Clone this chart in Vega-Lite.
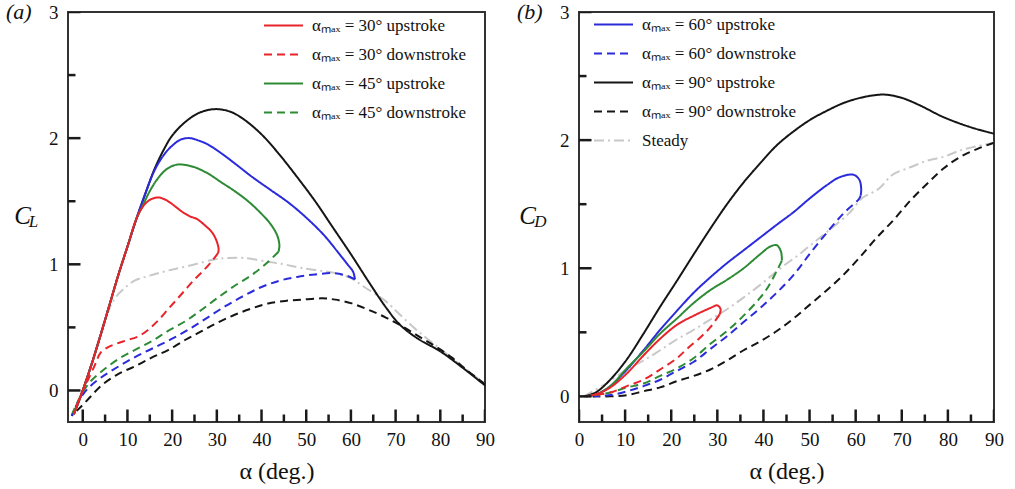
{
  "$schema": "https://vega.github.io/schema/vega-lite/v6.json",
  "background": "white",
  "padding": {"left": 5, "top": 0, "right": 5, "bottom": 5},
  "config": {
    "font": "Liberation Serif",
    "view": {"stroke": "#333333", "strokeWidth": 2},
    "axis": {"grid": false, "domain": false, "ticks": false, "labelFont": "Liberation Serif", "labelFontSize": 19, "labelColor": "#111111", "titleFont": "Liberation Serif", "titleFontWeight": "normal", "titleColor": "#111111", "labelFlush": false, "labelOverlap": false},
    "legend": {"title": null, "symbolType": "stroke", "symbolSize": 1521, "symbolStrokeWidth": 2, "labelFont": "Liberation Serif", "labelFontSize": 17, "labelColor": "#111111", "labelOffset": 8, "rowPadding": -12, "padding": 0, "labelLimit": 400},
    "title": {"font": "Liberation Serif", "fontSize": 22, "fontStyle": "italic", "fontWeight": "normal", "color": "#111111", "anchor": "start", "frame": "group"}
  },
  "datasets": {
    "xticks": [
      {"v":0,"k":"major"},{"v":10,"k":"major"},{"v":20,"k":"major"},{"v":30,"k":"major"},{"v":40,"k":"major"},{"v":50,"k":"major"},{"v":60,"k":"major"},{"v":70,"k":"major"},{"v":80,"k":"major"},{"v":90,"k":"major"},
      {"v":5,"k":"minor"},{"v":15,"k":"minor"},{"v":25,"k":"minor"},{"v":35,"k":"minor"},{"v":45,"k":"minor"},{"v":55,"k":"minor"},{"v":65,"k":"minor"},{"v":75,"k":"minor"},{"v":85,"k":"minor"}
    ],
    "yticks": [
      {"v":0,"k":"major"},{"v":1,"k":"major"},{"v":2,"k":"major"},{"v":3,"k":"major"},
      {"v":0.5,"k":"minor"},{"v":1.5,"k":"minor"},{"v":2.5,"k":"minor"}
    ],
    "lift": [
      {"s":"steady","i":0,"a":0,"c":0},{"s":"steady","i":1,"a":2,"c":0.22},{"s":"steady","i":2,"a":4,"c":0.45},{"s":"steady","i":3,"a":5.5,"c":0.61},{"s":"steady","i":4,"a":7.2,"c":0.73},{"s":"steady","i":5,"a":9,"c":0.8},{"s":"steady","i":6,"a":11.6,"c":0.87},{"s":"steady","i":7,"a":15,"c":0.91},{"s":"steady","i":8,"a":19,"c":0.95},{"s":"steady","i":9,"a":24,"c":0.99},{"s":"steady","i":10,"a":29.6,"c":1.04},{"s":"steady","i":11,"a":32.6,"c":1.05},{"s":"steady","i":12,"a":36,"c":1.05},{"s":"steady","i":13,"a":41.5,"c":1.02},{"s":"steady","i":14,"a":45,"c":1.0},{"s":"steady","i":15,"a":49,"c":0.97},{"s":"steady","i":16,"a":56.5,"c":0.93},{"s":"steady","i":17,"a":60,"c":0.89},{"s":"steady","i":18,"a":63,"c":0.82},{"s":"steady","i":19,"a":67.7,"c":0.71},{"s":"steady","i":20,"a":71,"c":0.6},{"s":"steady","i":21,"a":75,"c":0.47},{"s":"steady","i":22,"a":80.3,"c":0.32},{"s":"steady","i":23,"a":85,"c":0.19},{"s":"steady","i":24,"a":90,"c":0.05},

      {"s":"90up","i":0,"a":-2,"c":-0.19},{"s":"90up","i":1,"a":0,"c":0},{"s":"90up","i":2,"a":2,"c":0.21},{"s":"90up","i":3,"a":4,"c":0.44},{"s":"90up","i":4,"a":6,"c":0.68},{"s":"90up","i":5,"a":8,"c":0.92},{"s":"90up","i":6,"a":10,"c":1.14},{"s":"90up","i":7,"a":12,"c":1.36},{"s":"90up","i":8,"a":14,"c":1.56},{"s":"90up","i":9,"a":16,"c":1.75},{"s":"90up","i":10,"a":18,"c":1.9},{"s":"90up","i":11,"a":20,"c":2.02},{"s":"90up","i":12,"a":23,"c":2.13},{"s":"90up","i":13,"a":26,"c":2.2},{"s":"90up","i":14,"a":29.5,"c":2.23},{"s":"90up","i":15,"a":33,"c":2.21},{"s":"90up","i":16,"a":36,"c":2.15},{"s":"90up","i":17,"a":40,"c":2.03},{"s":"90up","i":18,"a":44,"c":1.87},{"s":"90up","i":19,"a":48,"c":1.69},{"s":"90up","i":20,"a":52,"c":1.5},{"s":"90up","i":21,"a":56,"c":1.29},{"s":"90up","i":22,"a":60,"c":1.08},{"s":"90up","i":23,"a":64,"c":0.86},{"s":"90up","i":24,"a":68,"c":0.65},{"s":"90up","i":25,"a":71,"c":0.52},{"s":"90up","i":26,"a":75,"c":0.41},{"s":"90up","i":27,"a":80,"c":0.31},{"s":"90up","i":28,"a":85,"c":0.18},{"s":"90up","i":29,"a":90,"c":0.04},

      {"s":"90down","i":0,"a":90,"c":0.05},{"s":"90down","i":1,"a":86.3,"c":0.15},{"s":"90down","i":2,"a":82.6,"c":0.26},{"s":"90down","i":3,"a":78.9,"c":0.35},{"s":"90down","i":4,"a":75.1,"c":0.43},{"s":"90down","i":5,"a":71.4,"c":0.51},{"s":"90down","i":6,"a":67.7,"c":0.58},{"s":"90down","i":7,"a":63.9,"c":0.64},{"s":"90down","i":8,"a":60.2,"c":0.69},{"s":"90down","i":9,"a":56.5,"c":0.72},{"s":"90down","i":10,"a":53.5,"c":0.73},{"s":"90down","i":11,"a":49,"c":0.72},{"s":"90down","i":12,"a":45.3,"c":0.71},{"s":"90down","i":13,"a":41.5,"c":0.69},{"s":"90down","i":14,"a":37.8,"c":0.65},{"s":"90down","i":15,"a":34,"c":0.6},{"s":"90down","i":16,"a":30.3,"c":0.54},{"s":"90down","i":17,"a":26.6,"c":0.47},{"s":"90down","i":18,"a":22.9,"c":0.4},{"s":"90down","i":19,"a":19.1,"c":0.32},{"s":"90down","i":20,"a":15.4,"c":0.26},{"s":"90down","i":21,"a":11.6,"c":0.19},{"s":"90down","i":22,"a":7.9,"c":0.13},{"s":"90down","i":23,"a":4.2,"c":0.04},{"s":"90down","i":24,"a":1.2,"c":-0.07},{"s":"90down","i":25,"a":-1,"c":-0.15},{"s":"90down","i":26,"a":-2.5,"c":-0.2},

      {"s":"60up","i":0,"a":-2,"c":-0.19},{"s":"60up","i":1,"a":0,"c":0},{"s":"60up","i":2,"a":2,"c":0.21},{"s":"60up","i":3,"a":4,"c":0.44},{"s":"60up","i":4,"a":6,"c":0.68},{"s":"60up","i":5,"a":8,"c":0.92},{"s":"60up","i":6,"a":10,"c":1.14},{"s":"60up","i":7,"a":12,"c":1.36},{"s":"60up","i":8,"a":14,"c":1.56},{"s":"60up","i":9,"a":16,"c":1.74},{"s":"60up","i":10,"a":18,"c":1.86},{"s":"60up","i":11,"a":20,"c":1.94},{"s":"60up","i":12,"a":22,"c":1.99},{"s":"60up","i":13,"a":24,"c":2.0},{"s":"60up","i":14,"a":26,"c":1.98},{"s":"60up","i":15,"a":28,"c":1.95},{"s":"60up","i":16,"a":31,"c":1.88},{"s":"60up","i":17,"a":34,"c":1.8},{"s":"60up","i":18,"a":38,"c":1.69},{"s":"60up","i":19,"a":42,"c":1.59},{"s":"60up","i":20,"a":46,"c":1.49},{"s":"60up","i":21,"a":50,"c":1.37},{"s":"60up","i":22,"a":54,"c":1.23},{"s":"60up","i":23,"a":57,"c":1.1},{"s":"60up","i":24,"a":59,"c":1.01},{"s":"60up","i":25,"a":60.5,"c":0.94},{"s":"60up","i":26,"a":60.9,"c":0.88},

      {"s":"60down","i":0,"a":60.9,"c":0.88},{"s":"60down","i":1,"a":59,"c":0.91},{"s":"60down","i":2,"a":56,"c":0.93},{"s":"60down","i":3,"a":52,"c":0.92},{"s":"60down","i":4,"a":48,"c":0.9},{"s":"60down","i":5,"a":44,"c":0.87},{"s":"60down","i":6,"a":40,"c":0.82},{"s":"60down","i":7,"a":36,"c":0.75},{"s":"60down","i":8,"a":32,"c":0.67},{"s":"60down","i":9,"a":28,"c":0.58},{"s":"60down","i":10,"a":24,"c":0.49},{"s":"60down","i":11,"a":20,"c":0.41},{"s":"60down","i":12,"a":16,"c":0.34},{"s":"60down","i":13,"a":12,"c":0.27},{"s":"60down","i":14,"a":8,"c":0.19},{"s":"60down","i":15,"a":4,"c":0.1},{"s":"60down","i":16,"a":1,"c":0.01},{"s":"60down","i":17,"a":-1,"c":-0.09},{"s":"60down","i":18,"a":-2.5,"c":-0.2},

      {"s":"45up","i":0,"a":-2,"c":-0.19},{"s":"45up","i":1,"a":0,"c":0},{"s":"45up","i":2,"a":2,"c":0.21},{"s":"45up","i":3,"a":4,"c":0.44},{"s":"45up","i":4,"a":6,"c":0.68},{"s":"45up","i":5,"a":8,"c":0.92},{"s":"45up","i":6,"a":10,"c":1.14},{"s":"45up","i":7,"a":12,"c":1.36},{"s":"45up","i":8,"a":13.5,"c":1.47},{"s":"45up","i":9,"a":15,"c":1.58},{"s":"45up","i":10,"a":17,"c":1.69},{"s":"45up","i":11,"a":19,"c":1.76},{"s":"45up","i":12,"a":21,"c":1.79},{"s":"45up","i":13,"a":22.5,"c":1.79},{"s":"45up","i":14,"a":25,"c":1.77},{"s":"45up","i":15,"a":28,"c":1.72},{"s":"45up","i":16,"a":31,"c":1.65},{"s":"45up","i":17,"a":34,"c":1.58},{"s":"45up","i":18,"a":37,"c":1.5},{"s":"45up","i":19,"a":40,"c":1.4},{"s":"45up","i":20,"a":42,"c":1.32},{"s":"45up","i":21,"a":43.5,"c":1.23},{"s":"45up","i":22,"a":44,"c":1.15},{"s":"45up","i":23,"a":43.8,"c":1.1},

      {"s":"45down","i":0,"a":43.8,"c":1.1},{"s":"45down","i":1,"a":41.5,"c":1.02},{"s":"45down","i":2,"a":38,"c":0.92},{"s":"45down","i":3,"a":34,"c":0.83},{"s":"45down","i":4,"a":30,"c":0.73},{"s":"45down","i":5,"a":26.6,"c":0.64},{"s":"45down","i":6,"a":23,"c":0.55},{"s":"45down","i":7,"a":19,"c":0.47},{"s":"45down","i":8,"a":15.4,"c":0.39},{"s":"45down","i":9,"a":11.6,"c":0.32},{"s":"45down","i":10,"a":8,"c":0.25},{"s":"45down","i":11,"a":4.2,"c":0.15},{"s":"45down","i":12,"a":1.2,"c":0.05},{"s":"45down","i":13,"a":-1,"c":-0.08},{"s":"45down","i":14,"a":-2.3,"c":-0.18},

      {"s":"30up","i":0,"a":-2,"c":-0.19},{"s":"30up","i":1,"a":0,"c":0},{"s":"30up","i":2,"a":2,"c":0.21},{"s":"30up","i":3,"a":4,"c":0.44},{"s":"30up","i":4,"a":6,"c":0.68},{"s":"30up","i":5,"a":8,"c":0.92},{"s":"30up","i":6,"a":10,"c":1.14},{"s":"30up","i":7,"a":12,"c":1.36},{"s":"30up","i":8,"a":13.5,"c":1.46},{"s":"30up","i":9,"a":15,"c":1.51},{"s":"30up","i":10,"a":16.7,"c":1.53},{"s":"30up","i":11,"a":18,"c":1.52},{"s":"30up","i":12,"a":19.5,"c":1.49},{"s":"30up","i":13,"a":21,"c":1.45},{"s":"30up","i":14,"a":22.5,"c":1.41},{"s":"30up","i":15,"a":24,"c":1.38},{"s":"30up","i":16,"a":25.5,"c":1.36},{"s":"30up","i":17,"a":27.3,"c":1.31},{"s":"30up","i":18,"a":29,"c":1.25},{"s":"30up","i":19,"a":30,"c":1.18},{"s":"30up","i":20,"a":30.4,"c":1.12},{"s":"30up","i":21,"a":30.3,"c":1.09},

      {"s":"30down","i":0,"a":30.3,"c":1.09},{"s":"30down","i":1,"a":29,"c":1.03},{"s":"30down","i":2,"a":27,"c":0.95},{"s":"30down","i":3,"a":25,"c":0.88},{"s":"30down","i":4,"a":23,"c":0.8},{"s":"30down","i":5,"a":21,"c":0.72},{"s":"30down","i":6,"a":19,"c":0.64},{"s":"30down","i":7,"a":17,"c":0.56},{"s":"30down","i":8,"a":14.6,"c":0.48},{"s":"30down","i":9,"a":12.5,"c":0.43},{"s":"30down","i":10,"a":10,"c":0.4},{"s":"30down","i":11,"a":7.5,"c":0.37},{"s":"30down","i":12,"a":5.5,"c":0.34},{"s":"30down","i":13,"a":4,"c":0.3},{"s":"30down","i":14,"a":2.7,"c":0.2},{"s":"30down","i":15,"a":1,"c":0.07},{"s":"30down","i":16,"a":0,"c":0},{"s":"30down","i":17,"a":-2,"c":-0.18}
    ],
    "drag": [
      {"s":"steady","i":0,"a":1,"c":0},{"s":"steady","i":1,"a":5.4,"c":0.09},{"s":"steady","i":2,"a":10.4,"c":0.21},{"s":"steady","i":3,"a":14,"c":0.28},{"s":"steady","i":4,"a":17.6,"c":0.36},{"s":"steady","i":5,"a":21,"c":0.44},{"s":"steady","i":6,"a":24.9,"c":0.52},{"s":"steady","i":7,"a":28.5,"c":0.6},{"s":"steady","i":8,"a":32.1,"c":0.68},{"s":"steady","i":9,"a":36,"c":0.78},{"s":"steady","i":10,"a":40,"c":0.89},{"s":"steady","i":11,"a":44.4,"c":1.02},{"s":"steady","i":12,"a":47.5,"c":1.1},{"s":"steady","i":13,"a":50.2,"c":1.18},{"s":"steady","i":14,"a":54,"c":1.29},{"s":"steady","i":15,"a":58.6,"c":1.43},{"s":"steady","i":16,"a":61.5,"c":1.55},{"s":"steady","i":17,"a":65,"c":1.62},{"s":"steady","i":18,"a":68,"c":1.73},{"s":"steady","i":19,"a":72,"c":1.79},{"s":"steady","i":20,"a":75.5,"c":1.84},{"s":"steady","i":21,"a":79.1,"c":1.87},{"s":"steady","i":22,"a":82.7,"c":1.92},{"s":"steady","i":23,"a":86,"c":1.95},{"s":"steady","i":24,"a":90,"c":1.98},

      {"s":"90up","i":0,"a":1,"c":0},{"s":"90up","i":1,"a":3.6,"c":0.03},{"s":"90up","i":2,"a":6.5,"c":0.12},{"s":"90up","i":3,"a":10.2,"c":0.28},{"s":"90up","i":4,"a":14,"c":0.49},{"s":"90up","i":5,"a":17.6,"c":0.7},{"s":"90up","i":6,"a":21.2,"c":0.9},{"s":"90up","i":7,"a":24.9,"c":1.11},{"s":"90up","i":8,"a":28.5,"c":1.31},{"s":"90up","i":9,"a":32.1,"c":1.5},{"s":"90up","i":10,"a":35.7,"c":1.67},{"s":"90up","i":11,"a":39.3,"c":1.82},{"s":"90up","i":12,"a":42.9,"c":1.96},{"s":"90up","i":13,"a":46.6,"c":2.07},{"s":"90up","i":14,"a":50.2,"c":2.16},{"s":"90up","i":15,"a":53.8,"c":2.23},{"s":"90up","i":16,"a":57.4,"c":2.29},{"s":"90up","i":17,"a":61,"c":2.33},{"s":"90up","i":18,"a":64,"c":2.35},{"s":"90up","i":19,"a":66.5,"c":2.355},{"s":"90up","i":20,"a":70,"c":2.33},{"s":"90up","i":21,"a":74,"c":2.27},{"s":"90up","i":22,"a":79,"c":2.18},{"s":"90up","i":23,"a":85,"c":2.1},{"s":"90up","i":24,"a":90,"c":2.05},

      {"s":"90down","i":0,"a":90,"c":1.98},{"s":"90down","i":1,"a":86.3,"c":1.93},{"s":"90down","i":2,"a":82.7,"c":1.87},{"s":"90down","i":3,"a":79.1,"c":1.78},{"s":"90down","i":4,"a":75.5,"c":1.66},{"s":"90down","i":5,"a":71.9,"c":1.53},{"s":"90down","i":6,"a":68.3,"c":1.38},{"s":"90down","i":7,"a":64.6,"c":1.24},{"s":"90down","i":8,"a":61,"c":1.09},{"s":"90down","i":9,"a":57.4,"c":0.95},{"s":"90down","i":10,"a":53.8,"c":0.83},{"s":"90down","i":11,"a":50.2,"c":0.72},{"s":"90down","i":12,"a":46.6,"c":0.61},{"s":"90down","i":13,"a":42.9,"c":0.51},{"s":"90down","i":14,"a":39.3,"c":0.43},{"s":"90down","i":15,"a":35.7,"c":0.36},{"s":"90down","i":16,"a":32.1,"c":0.28},{"s":"90down","i":17,"a":28.5,"c":0.21},{"s":"90down","i":18,"a":24.9,"c":0.16},{"s":"90down","i":19,"a":21.3,"c":0.12},{"s":"90down","i":20,"a":17.6,"c":0.07},{"s":"90down","i":21,"a":14,"c":0.04},{"s":"90down","i":22,"a":10.4,"c":0.01},{"s":"90down","i":23,"a":6.8,"c":0},{"s":"90down","i":24,"a":3.9,"c":0},{"s":"90down","i":25,"a":2,"c":0},

      {"s":"60up","i":0,"a":1.5,"c":0},{"s":"60up","i":1,"a":4,"c":0.02},{"s":"60up","i":2,"a":6.8,"c":0.08},{"s":"60up","i":3,"a":10.4,"c":0.21},{"s":"60up","i":4,"a":14,"c":0.36},{"s":"60up","i":5,"a":17.6,"c":0.52},{"s":"60up","i":6,"a":21.3,"c":0.67},{"s":"60up","i":7,"a":24.9,"c":0.81},{"s":"60up","i":8,"a":28.5,"c":0.93},{"s":"60up","i":9,"a":32.1,"c":1.04},{"s":"60up","i":10,"a":35.7,"c":1.14},{"s":"60up","i":11,"a":39.3,"c":1.24},{"s":"60up","i":12,"a":42.9,"c":1.34},{"s":"60up","i":13,"a":46.6,"c":1.44},{"s":"60up","i":14,"a":50.2,"c":1.55},{"s":"60up","i":15,"a":53.8,"c":1.65},{"s":"60up","i":16,"a":56.5,"c":1.71},{"s":"60up","i":17,"a":59.5,"c":1.73},{"s":"60up","i":18,"a":60.8,"c":1.69},{"s":"60up","i":19,"a":61.2,"c":1.62},{"s":"60up","i":20,"a":61.1,"c":1.57},

      {"s":"60down","i":0,"a":61.1,"c":1.57},{"s":"60down","i":1,"a":60.7,"c":1.54},{"s":"60down","i":2,"a":57.4,"c":1.43},{"s":"60down","i":3,"a":53.8,"c":1.28},{"s":"60down","i":4,"a":50.2,"c":1.12},{"s":"60down","i":5,"a":46.6,"c":0.95},{"s":"60down","i":6,"a":42.9,"c":0.81},{"s":"60down","i":7,"a":39.3,"c":0.69},{"s":"60down","i":8,"a":35.7,"c":0.58},{"s":"60down","i":9,"a":32.1,"c":0.47},{"s":"60down","i":10,"a":28.5,"c":0.37},{"s":"60down","i":11,"a":24.9,"c":0.27},{"s":"60down","i":12,"a":21.3,"c":0.2},{"s":"60down","i":13,"a":17.6,"c":0.13},{"s":"60down","i":14,"a":14,"c":0.08},{"s":"60down","i":15,"a":10.4,"c":0.04},{"s":"60down","i":16,"a":6.8,"c":0.01},{"s":"60down","i":17,"a":3.2,"c":0},

      {"s":"45up","i":0,"a":1.5,"c":0},{"s":"45up","i":1,"a":4,"c":0.02},{"s":"45up","i":2,"a":6.8,"c":0.08},{"s":"45up","i":3,"a":10.4,"c":0.22},{"s":"45up","i":4,"a":14,"c":0.35},{"s":"45up","i":5,"a":17.6,"c":0.49},{"s":"45up","i":6,"a":21.3,"c":0.61},{"s":"45up","i":7,"a":24.9,"c":0.73},{"s":"45up","i":8,"a":28.5,"c":0.83},{"s":"45up","i":9,"a":32.1,"c":0.91},{"s":"45up","i":10,"a":35.7,"c":1.0},{"s":"45up","i":11,"a":39.3,"c":1.11},{"s":"45up","i":12,"a":41.5,"c":1.17},{"s":"45up","i":13,"a":42.9,"c":1.18},{"s":"45up","i":14,"a":43.8,"c":1.13},{"s":"45up","i":15,"a":44,"c":1.06},

      {"s":"45down","i":0,"a":44,"c":1.06},{"s":"45down","i":1,"a":42.9,"c":0.98},{"s":"45down","i":2,"a":41.1,"c":0.86},{"s":"45down","i":3,"a":39.3,"c":0.77},{"s":"45down","i":4,"a":35.7,"c":0.63},{"s":"45down","i":5,"a":32.1,"c":0.51},{"s":"45down","i":6,"a":28.5,"c":0.41},{"s":"45down","i":7,"a":24.9,"c":0.3},{"s":"45down","i":8,"a":21.3,"c":0.22},{"s":"45down","i":9,"a":17.6,"c":0.16},{"s":"45down","i":10,"a":14,"c":0.1},{"s":"45down","i":11,"a":10.4,"c":0.07},{"s":"45down","i":12,"a":6.8,"c":0.03},{"s":"45down","i":13,"a":3.2,"c":0.01},

      {"s":"30up","i":0,"a":1.5,"c":0},{"s":"30up","i":1,"a":4,"c":0.02},{"s":"30up","i":2,"a":6.8,"c":0.07},{"s":"30up","i":3,"a":10.4,"c":0.18},{"s":"30up","i":4,"a":14,"c":0.32},{"s":"30up","i":5,"a":17.6,"c":0.45},{"s":"30up","i":6,"a":21.3,"c":0.56},{"s":"30up","i":7,"a":24.9,"c":0.63},{"s":"30up","i":8,"a":28.5,"c":0.69},{"s":"30up","i":9,"a":30,"c":0.71},{"s":"30up","i":10,"a":30.7,"c":0.68},{"s":"30up","i":11,"a":30.5,"c":0.64},

      {"s":"30down","i":0,"a":30.5,"c":0.64},{"s":"30down","i":1,"a":28.5,"c":0.54},{"s":"30down","i":2,"a":26.3,"c":0.46},{"s":"30down","i":3,"a":23.4,"c":0.37},{"s":"30down","i":4,"a":21.3,"c":0.3},{"s":"30down","i":5,"a":17.6,"c":0.21},{"s":"30down","i":6,"a":14,"c":0.13},{"s":"30down","i":7,"a":10.4,"c":0.08},{"s":"30down","i":8,"a":6.8,"c":0.03},{"s":"30down","i":9,"a":3.2,"c":0.01}
    ]
  },
  "spacing": 20,
  "resolve": {
    "scale": {"x": "independent", "y": "independent", "color": "independent", "strokeDash": "independent", "size": "independent"},
    "axis": {"x": "independent", "y": "independent"},
    "legend": {"color": "independent", "strokeDash": "independent"}
  },
  "hconcat": [
    {
      "width": 417,
      "height": 410,
      "title": {"text": "(a)", "offset": -21, "dx": -62},
      "resolve": {"axis": {"x": "independent", "y": "independent"}},
      "layer": [
        {
          "data": {"name": "lift"},
          "mark": {"type": "line", "strokeWidth": 2, "interpolate": "catmull-rom"},
          "encoding": {
            "x": {"field": "a", "type": "quantitative", "scale": {"domain": [-3.3, 90], "nice": false, "zero": false},
              "axis": {"orient": "bottom", "values": [0, 10, 20, 30, 40, 50, 60, 70, 80, 90], "labelPadding": 8, "title": "α (deg.)", "titleFontSize": 24, "titlePadding": 10}},
            "y": {"field": "c", "type": "quantitative", "scale": {"domain": [-0.25, 3], "nice": false, "zero": false},
              "axis": {"orient": "left", "values": [0, 1, 2, 3], "labelPadding": 10, "title": "C", "titleFontSize": 25, "titleFontStyle": "italic", "titleAngle": 0, "titleAlign": "center", "titleBaseline": "alphabetic", "titleX": -46, "titleY": 211}},
            "color": {"field": "s", "type": "nominal",
              "scale": {"domain": ["30up", "30down", "45up", "45down", "60up", "60down", "90up", "90down", "steady"], "range": ["#e8242a", "#e8242a", "#2e8b35", "#2e8b35", "#2b2bdc", "#2b2bdc", "#151515", "#151515", "#c8c8c8"]},
              "legend": {"values": ["30up", "30down", "45up", "45down"], "orient": "none", "legendX": 195, "legendY": -7, "labelExpr": "'αₘₐₓ = ' + slice(datum.value, 0, 2) + '°  ' + (indexof(datum.value, 'up') > 0 ? 'upstroke' : 'downstroke')"}},
            "strokeDash": {"field": "s", "type": "nominal",
              "scale": {"domain": ["30up", "30down", "45up", "45down", "60up", "60down", "90up", "90down", "steady"], "range": [[1, 0], [8, 5], [1, 0], [8, 5], [1, 0], [8, 5], [1, 0], [8, 5], [10, 4, 2, 4]]},
              "legend": {"values": ["30up", "30down", "45up", "45down"], "orient": "none", "legendX": 195, "legendY": -7, "labelExpr": "'αₘₐₓ = ' + slice(datum.value, 0, 2) + '°  ' + (indexof(datum.value, 'up') > 0 ? 'upstroke' : 'downstroke')"}},
            "order": {"field": "i", "type": "quantitative"}
          }
        },
        {
          "data": {"name": "xticks"},
          "mark": {"type": "tick", "orient": "vertical", "clip": true, "color": "#1a1a1a", "opacity": 1, "thickness": 2.5},
          "encoding": {
            "x": {"field": "v", "type": "quantitative", "axis": null},
            "y": {"datum": -0.25, "type": "quantitative", "axis": null},
            "size": {"field": "k", "type": "ordinal", "scale": {"domain": ["major", "minor"], "range": [25, 15]}, "legend": null}
          }
        },
        {
          "data": {"name": "yticks"},
          "mark": {"type": "tick", "orient": "horizontal", "clip": true, "color": "#1a1a1a", "opacity": 1, "thickness": 2.5},
          "encoding": {
            "x": {"datum": -3.3, "type": "quantitative", "axis": null},
            "y": {"field": "v", "type": "quantitative",
              "axis": {"orient": "left", "labels": false, "ticks": false, "title": "L", "titleFontSize": 17, "titleFontStyle": "italic", "titleAngle": 0, "titleAlign": "center", "titleBaseline": "alphabetic", "titleX": -35, "titleY": 214}},
            "size": {"field": "k", "type": "ordinal", "scale": {"domain": ["major", "minor"], "range": [25, 15]}, "legend": null}
          }
        }
      ]
    },
    {
      "width": 415,
      "height": 410,
      "title": {"text": "(b)", "offset": -21, "dx": -62},
      "resolve": {"axis": {"x": "independent", "y": "independent"}},
      "layer": [
        {
          "data": {"name": "drag"},
          "mark": {"type": "line", "strokeWidth": 2, "interpolate": "catmull-rom"},
          "encoding": {
            "x": {"field": "a", "type": "quantitative", "scale": {"domain": [0, 90], "nice": false, "zero": false},
              "axis": {"orient": "bottom", "values": [0, 10, 20, 30, 40, 50, 60, 70, 80, 90], "labelPadding": 8, "title": "α (deg.)", "titleFontSize": 24, "titlePadding": 10}},
            "y": {"field": "c", "type": "quantitative", "scale": {"domain": [-0.2, 3], "nice": false, "zero": false},
              "axis": {"orient": "left", "values": [0, 1, 2, 3], "labelPadding": 10, "title": "C", "titleFontSize": 25, "titleFontStyle": "italic", "titleAngle": 0, "titleAlign": "center", "titleBaseline": "alphabetic", "titleX": -52, "titleY": 211}},
            "color": {"field": "s", "type": "nominal",
              "scale": {"domain": ["30up", "30down", "45up", "45down", "60up", "60down", "90up", "90down", "steady"], "range": ["#e8242a", "#e8242a", "#2e8b35", "#2e8b35", "#2b2bdc", "#2b2bdc", "#151515", "#151515", "#c8c8c8"]},
              "legend": {"values": ["60up", "60down", "90up", "90down", "steady"], "orient": "none", "legendX": 14, "legendY": -8, "labelExpr": "datum.value == 'steady' ? 'Steady' : 'αₘₐₓ = ' + slice(datum.value, 0, 2) + '°  ' + (indexof(datum.value, 'up') > 0 ? 'upstroke' : 'downstroke')"}},
            "strokeDash": {"field": "s", "type": "nominal",
              "scale": {"domain": ["30up", "30down", "45up", "45down", "60up", "60down", "90up", "90down", "steady"], "range": [[1, 0], [8, 5], [1, 0], [8, 5], [1, 0], [8, 5], [1, 0], [8, 5], [10, 4, 2, 4]]},
              "legend": {"values": ["60up", "60down", "90up", "90down", "steady"], "orient": "none", "legendX": 14, "legendY": -8, "labelExpr": "datum.value == 'steady' ? 'Steady' : 'αₘₐₓ = ' + slice(datum.value, 0, 2) + '°  ' + (indexof(datum.value, 'up') > 0 ? 'upstroke' : 'downstroke')"}},
            "order": {"field": "i", "type": "quantitative"}
          }
        },
        {
          "data": {"name": "xticks"},
          "mark": {"type": "tick", "orient": "vertical", "clip": true, "color": "#1a1a1a", "opacity": 1, "thickness": 2.5},
          "encoding": {
            "x": {"field": "v", "type": "quantitative", "axis": null},
            "y": {"datum": -0.2, "type": "quantitative", "axis": null},
            "size": {"field": "k", "type": "ordinal", "scale": {"domain": ["major", "minor"], "range": [25, 15]}, "legend": null}
          }
        },
        {
          "data": {"name": "yticks"},
          "mark": {"type": "tick", "orient": "horizontal", "clip": true, "color": "#1a1a1a", "opacity": 1, "thickness": 2.5},
          "encoding": {
            "x": {"datum": 0, "type": "quantitative", "axis": null},
            "y": {"field": "v", "type": "quantitative",
              "axis": {"orient": "left", "labels": false, "ticks": false, "title": "D", "titleFontSize": 17, "titleFontStyle": "italic", "titleAngle": 0, "titleAlign": "center", "titleBaseline": "alphabetic", "titleX": -39, "titleY": 214}},
            "size": {"field": "k", "type": "ordinal", "scale": {"domain": ["major", "minor"], "range": [25, 15]}, "legend": null}
          }
        }
      ]
    }
  ]
}
